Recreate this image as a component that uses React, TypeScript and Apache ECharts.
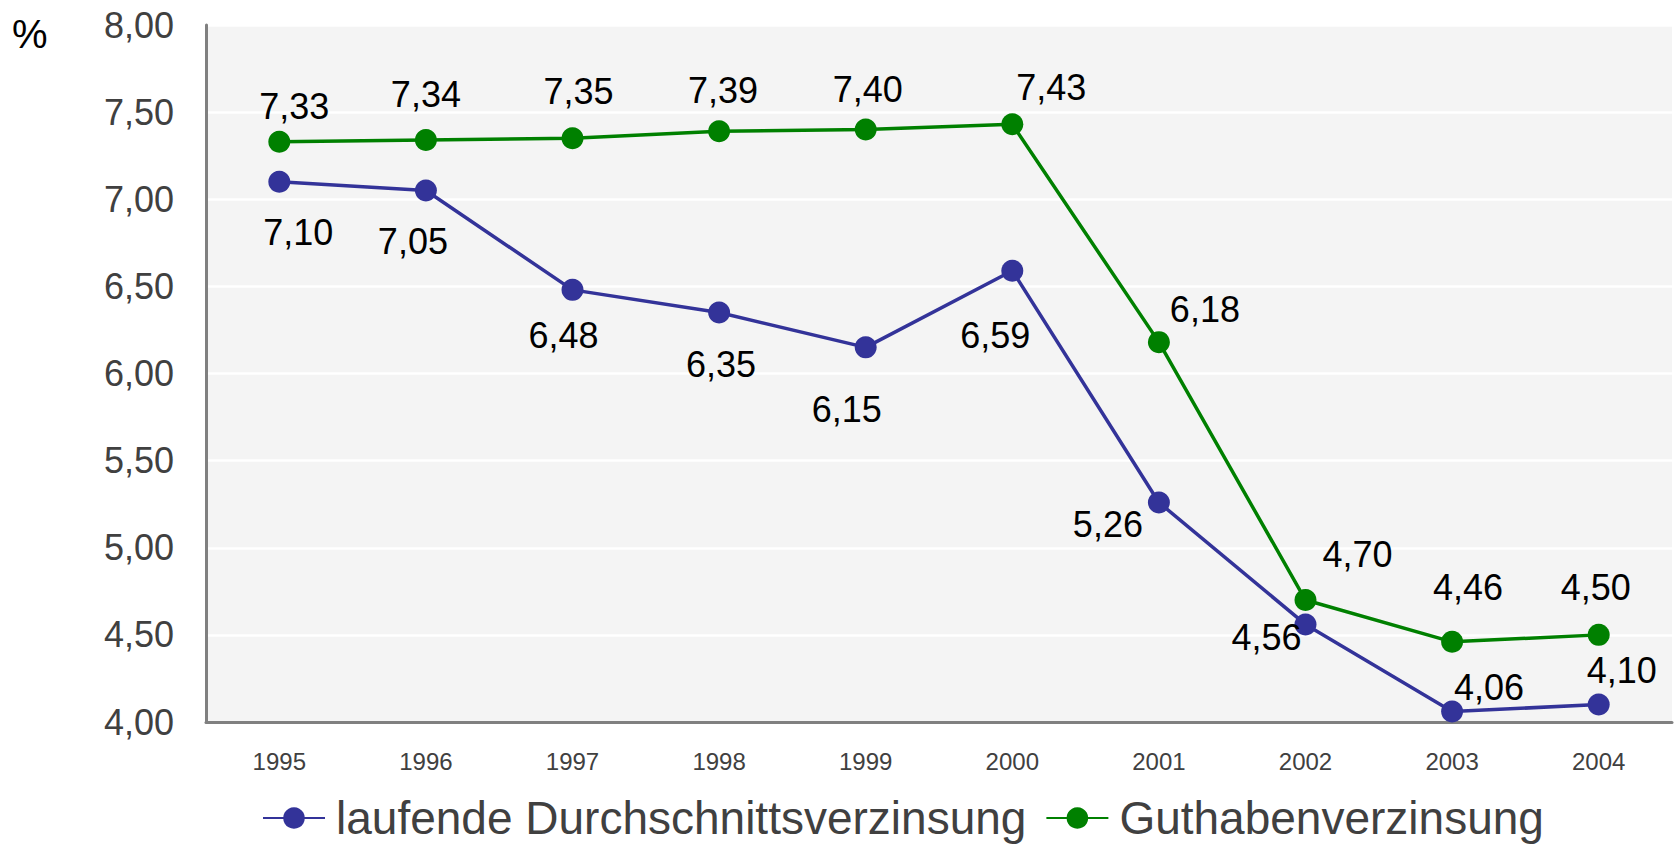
import React, { useEffect, useRef } from "react";
import * as echarts from "echarts";

const years = ["1995", "1996", "1997", "1998", "1999", "2000", "2001", "2002", "2003", "2004"];
const laufende = [7.1, 7.05, 6.48, 6.35, 6.15, 6.59, 5.26, 4.56, 4.06, 4.1];
const guthaben = [7.33, 7.34, 7.35, 7.39, 7.4, 7.43, 6.18, 4.7, 4.46, 4.5];
const seriesNames = ["laufende Durchschnittsverzinsung", "Guthabenverzinsung"];
const yTicks = { min: 4, max: 8, interval: 0.5 };

// label offsets (style, not data)
const blueOffsets = [[19, 51], [-13, 51], [-9, 46], [2, 52], [-19, 62], [-17, 65], [-51, 22], [-39, 13], [37, -24], [23, -34]];
const greenOffsets = [[15, -35], [0, -46], [6, -47], [4, -41], [2, -40], [39, -37], [46, -33], [52, -46], [16, -54], [-3, -47]];

const fmt = (v: number) => v.toFixed(2).replace(".", ",");
const FONT = "'Liberation Sans', Arial, sans-serif";

export default function App() {
  const ref = useRef<HTMLDivElement>(null);
  useEffect(() => {
    if (!ref.current) return;
    const chart = echarts.init(ref.current, undefined, { renderer: "svg" });
    const mk = (vals: number[], offs: number[][]) =>
      vals.map((v, i) => ({
        value: v,
        label: { offset: offs[i] },
      }));
    const baseSeries = (name: string, color: string, vals: number[], offs: number[][]) => ({
      type: "line",
      name,
      data: mk(vals, offs),
      symbol: "circle",
      symbolSize: 22,
      lineStyle: { color, width: 3.5 },
      itemStyle: { color },
      label: {
        show: true,
        position: "inside",
        formatter: (p: any) => fmt(p.value),
        fontSize: 36,
        fontFamily: FONT,
        color: "#000",
        align: "center",
        verticalAlign: "middle",
      },
    });
    chart.setOption({
      animation: false,
      textStyle: { fontFamily: FONT },
      grid: {
        left: 206,
        right: 6,
        top: 25,
        bottom: 127,
        show: true,
        backgroundColor: "#f4f4f4",
        borderWidth: 0,
      },
      legend: {
        left: 257,
        top: 790,
        itemWidth: 62,
        itemHeight: 27,
        itemGap: 19,
        textStyle: { fontSize: 46, lineHeight: 46, color: "#404040", fontFamily: FONT, padding: [0, 0, 0, 6] },
        data: seriesNames,
      },
      graphic: [
        {
          type: "text",
          left: 12,
          top: 14,
          style: { text: "%", fontSize: 40, fill: "#000", font: `40px ${FONT}` },
        },
      ],
      xAxis: {
        type: "category",
        data: years,
        boundaryGap: true,
        axisLine: { lineStyle: { color: "#808080", width: 3 } },
        axisTick: { show: false },
        axisLabel: { fontSize: 24, color: "#404040", margin: 27, fontFamily: FONT },
      },
      yAxis: {
        type: "value",
        min: yTicks.min,
        max: yTicks.max,
        interval: yTicks.interval,
        axisLine: { show: true, lineStyle: { color: "#808080", width: 3 } },
        axisTick: { show: false },
        splitLine: { lineStyle: { color: "#ffffff", width: 2.5 } },
        axisLabel: {
          fontSize: 36,
          color: "#404040",
          margin: 32,
          fontFamily: FONT,
          formatter: (v: number) => fmt(v),
        },
      },
      series: [
        baseSeries(seriesNames[0], "#333399", laufende, blueOffsets),
        baseSeries(seriesNames[1], "#008000", guthaben, greenOffsets),
      ],
    });
    return () => chart.dispose();
  }, []);
  return (
    <div
      ref={ref}
      style={{ position: "fixed", left: 0, top: 0, width: 1678, height: 849, background: "#fff" }}
    />
  );
}
